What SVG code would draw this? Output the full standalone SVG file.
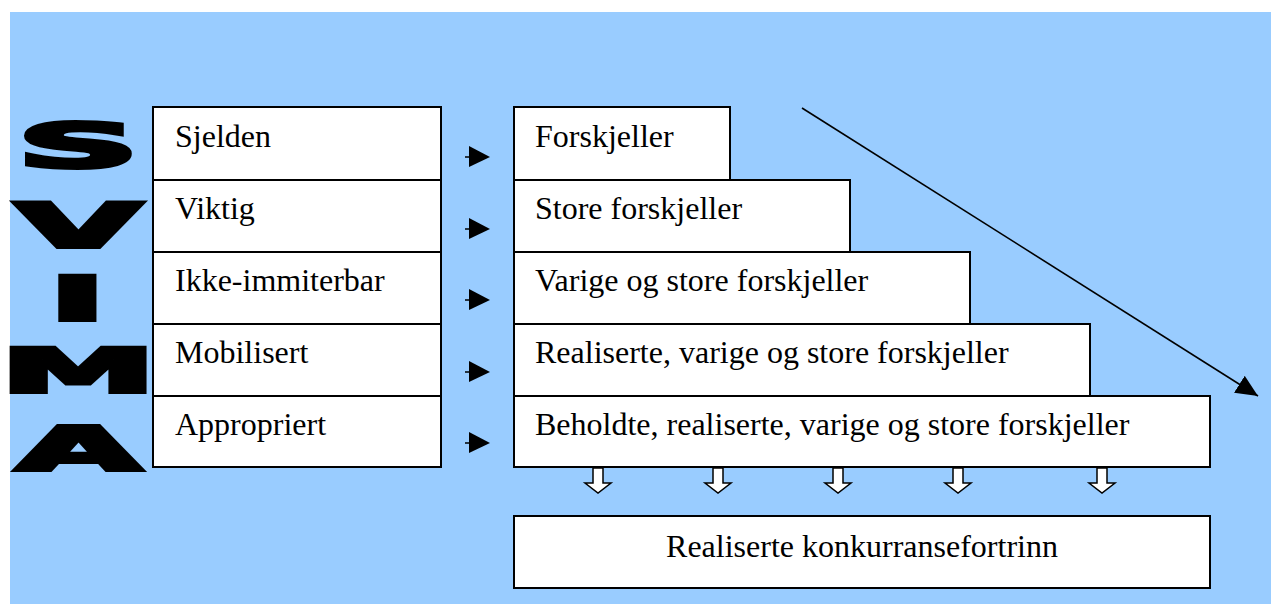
<svg xmlns="http://www.w3.org/2000/svg" width="1271" height="604" viewBox="0 0 1271 604">
<style>
.box{fill:#fff;stroke:#000;stroke-width:2}
.t{font-family:"Liberation Serif","Times New Roman",serif;font-size:32px;fill:#000}
.big{font-family:"DejaVu Sans",sans-serif;font-weight:bold;font-size:60px;fill:#000;stroke:#000;stroke-width:4;stroke-linejoin:miter;text-anchor:middle}
.ar{fill:#000}
.hollow{fill:#fff;stroke:#000;stroke-width:1.5;stroke-linejoin:miter}
</style>
<defs>
<marker id="diag" markerUnits="userSpaceOnUse" markerWidth="24" markerHeight="20" refX="22" refY="10" orient="auto">
<path d="M0,0 L22,10 L0,20 Z" fill="#000"/>
</marker>
</defs>
<rect x="10" y="12" width="1261" height="592" fill="#99CCFF"/>
<g id="svima">
<text class="big" transform="translate(78,167) scale(2.8,1)">S</text>
<text class="big" transform="translate(78.5,247) scale(2.7,1)">V</text>
<text class="big" transform="translate(77.5,320) scale(2.5,1)">I</text>
<text class="big" transform="translate(78,392) scale(2.6,1)">M</text>
<text class="big" transform="translate(78.5,470) scale(2.66,1)">A</text>
</g>
<g id="left-col">
<g id="l1"><rect class="box" x="153" y="107" width="288" height="73"/><text class="t" x="175" y="147">Sjelden</text></g>
<g id="l2"><rect class="box" x="153" y="180" width="288" height="72"/><text class="t" x="175" y="219">Viktig</text></g>
<g id="l3"><rect class="box" x="153" y="252" width="288" height="72"/><text class="t" x="175" y="291">Ikke-immiterbar</text></g>
<g id="l4"><rect class="box" x="153" y="324" width="288" height="72"/><text class="t" x="175" y="363">Mobilisert</text></g>
<g id="l5"><rect class="box" x="153" y="396" width="288" height="71"/><text class="t" x="175" y="435">Appropriert</text></g>
</g>
<g id="right-col">
<g id="r1"><rect class="box" x="514" y="107" width="216" height="73"/><text class="t" x="535" y="147">Forskjeller</text></g>
<g id="r2"><rect class="box" x="514" y="180" width="336" height="72"/><text class="t" x="535" y="219">Store forskjeller</text></g>
<g id="r3"><rect class="box" x="514" y="252" width="456" height="72"/><text class="t" x="535" y="291">Varige og store forskjeller</text></g>
<g id="r4"><rect class="box" x="514" y="324" width="576" height="72"/><text class="t" x="535" y="363">Realiserte, varige og store forskjeller</text></g>
<g id="r5"><rect class="box" x="514" y="396" width="696" height="71"/><text class="t" x="535" y="435">Beholdte, realiserte, varige og store forskjeller</text></g>
</g>
<g id="result"><rect class="box" x="514" y="516" width="696" height="72"/><text class="t" x="862" y="557" text-anchor="middle">Realiserte konkurransefortrinn</text></g>
<g id="connectors">
<g id="small-arrows" stroke="#000" stroke-width="1.5">
<line x1="465" y1="157" x2="471" y2="157"/><path class="ar" stroke="none" d="M469,146 L490,157 L469,167 Z"/>
<line x1="465" y1="229" x2="471" y2="229"/><path class="ar" stroke="none" d="M469,218 L490,229 L469,239 Z"/>
<line x1="465" y1="300" x2="471" y2="300"/><path class="ar" stroke="none" d="M469,289 L490,300 L469,310 Z"/>
<line x1="465" y1="372" x2="471" y2="372"/><path class="ar" stroke="none" d="M469,361 L490,372 L469,382 Z"/>
<line x1="465" y1="443" x2="471" y2="443"/><path class="ar" stroke="none" d="M469,432 L490,443 L469,453 Z"/>
</g>
<g id="down-arrows">
<path class="hollow" d="M593,468 L603,468 L603,483 L611,483 L598,493 L585,483 L593,483 Z"/>
<path class="hollow" d="M713,468 L723,468 L723,483 L731,483 L718,493 L705,483 L713,483 Z"/>
<path class="hollow" d="M833,468 L843,468 L843,483 L851,483 L838,493 L825,483 L833,483 Z"/>
<path class="hollow" d="M953,468 L963,468 L963,483 L971,483 L958,493 L945,483 L953,483 Z"/>
<path class="hollow" d="M1097,468 L1107,468 L1107,483 L1115,483 L1102,493 L1089,483 L1097,483 Z"/>
</g>
<line id="diagonal" x1="802" y1="108" x2="1258" y2="396" stroke="#000" stroke-width="1.6" marker-end="url(#diag)"/>
</g>
</svg>
